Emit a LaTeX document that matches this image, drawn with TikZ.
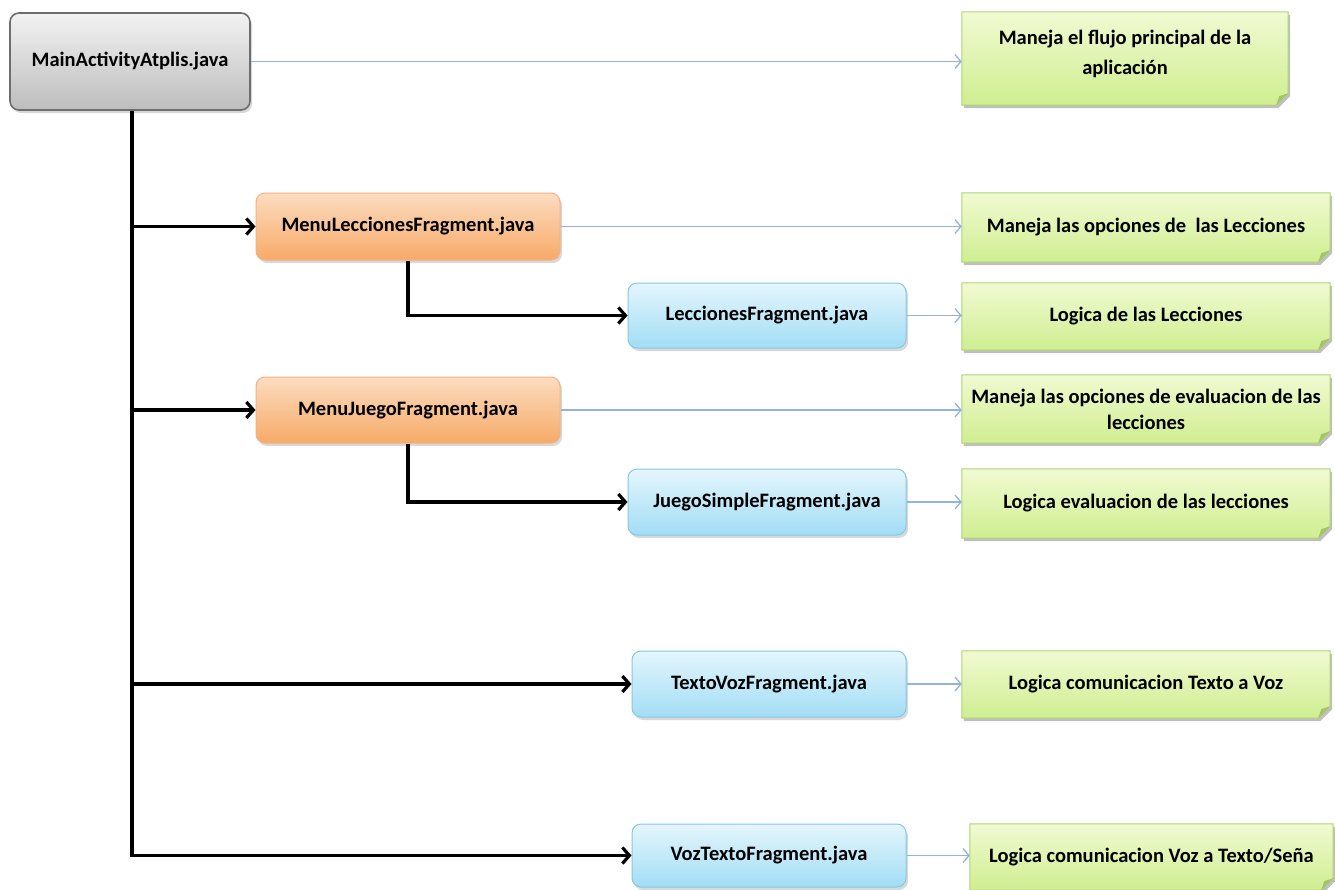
\documentclass[tikz,border=0pt]{standalone}
\usepackage{fontspec}
\setmainfont{Carlito}
\usetikzlibrary{arrows.meta,shadows,backgrounds}
\definecolor{grayTop}{HTML}{F2F2F2}
\definecolor{grayBot}{HTML}{BDBDBD}
\definecolor{grayLine}{HTML}{6E6E6E}
\definecolor{orTop}{HTML}{FCDCC0}
\definecolor{orBot}{HTML}{F7AA68}
\definecolor{orLine}{HTML}{F4B183}
\definecolor{blTop}{HTML}{E4F6FD}
\definecolor{blBot}{HTML}{A2DDF5}
\definecolor{blLine}{HTML}{86C8E4}
\definecolor{grTop}{HTML}{F1FAD2}
\definecolor{grBot}{HTML}{CFEE90}
\definecolor{grLine}{HTML}{B0D376}
\definecolor{grFold}{HTML}{A4C566}
\definecolor{arrBlue}{HTML}{94B2E0}
\newcommand{\notebg}[1]{%
  \fill[black, opacity=0.25] ([xshift=2pt,yshift=-3pt]#1.north west) -- ([xshift=2pt,yshift=-3pt]#1.north east) -- ([xshift=2pt,yshift=9pt]#1.south east) -- ([xshift=-10pt,yshift=-3pt]#1.south east) -- ([xshift=2pt,yshift=-3pt]#1.south west) -- cycle;
  \path[top color=grTop, bottom color=grBot, draw=grLine, line width=1pt] (#1.north west) -- (#1.north east) -- ([yshift=12pt]#1.south east) -- ([xshift=-12pt]#1.south east) -- (#1.south west) -- cycle;
  \fill[grFold] ([yshift=12pt]#1.south east) -- ([xshift=-12pt]#1.south east) -- ([xshift=-9pt,yshift=9pt]#1.south east) -- cycle;
}
\begin{document}
\begin{tikzpicture}[x=1pt,y=-1pt,
  txt/.style={font=\bfseries\fontsize{20.5}{24}\selectfont, align=center, inner sep=0pt},
  box/.style={txt, rounded corners=9pt, line width=1pt,
    drop shadow={shadow xshift=2pt, shadow yshift=-3pt, opacity=0.3}},
  mainbox/.style={box, draw=grayLine, line width=1.6pt, top color=grayTop, bottom color=grayBot},
  orbox/.style={box, draw=orLine, top color=orTop, bottom color=orBot},
  blbox/.style={box, draw=blLine, top color=blTop, bottom color=blBot},
  note/.style={txt},
  barrow/.style={draw=arrBlue, line width=1.3pt, -{Straight Barb[length=6pt,width=14pt,line width=1.3pt]}},
  karrow/.style={draw=black, line width=3.2pt, -{Straight Barb[length=7pt,width=16pt]}}
]
\begin{scope}[on background layer]
\fill[white] (0,0) rectangle (1335,889);
\end{scope}
\useasboundingbox (0,0) rectangle (1335,889);

% left-side boxes
\node[mainbox, minimum width=240pt, minimum height=97pt] (main) at (130,61.5) {MainActivityAtplis.java};
\node[orbox, minimum width=304pt, minimum height=67pt] (menuL) at (408,226.5) {MenuLeccionesFragment.java};
\node[blbox, minimum width=278pt, minimum height=65pt] (lec) at (767,315.5) {LeccionesFragment.java};
\node[orbox, minimum width=304pt, minimum height=66pt] (menuJ) at (408,410) {MenuJuegoFragment.java};
\node[blbox, minimum width=278pt, minimum height=66pt] (jue) at (767,502) {JuegoSimpleFragment.java};
\node[blbox, minimum width=274pt, minimum height=66pt] (tv) at (769,684) {TextoVozFragment.java};
\node[blbox, minimum width=274pt, minimum height=63pt] (vt) at (769,855.5) {VozTextoFragment.java};

% notes
\node[note, minimum width=326pt, minimum height=93pt] (g1) at (1125,58.5) {Maneja el flujo principal de la\\[6pt]aplicación\\[-12pt]\mbox{}};
\node[note, minimum width=368pt, minimum height=69pt] (g2) at (1146,227.5) {Maneja las opciones de\ \ las Lecciones};
\node[note, minimum width=368pt, minimum height=67pt] (g3) at (1146,316.5) {Logica de las Lecciones};
\node[note, minimum width=368pt, minimum height=68pt] (g4) at (1146,409) {Maneja las opciones de evaluacion de las\\[2pt]lecciones};
\node[note, minimum width=368pt, minimum height=69pt] (g5) at (1146,503.5) {Logica evaluacion de las lecciones};
\node[note, minimum width=368pt, minimum height=67pt] (g6) at (1146,684.5) {Logica comunicacion Texto a Voz};
\node[note, minimum width=363pt, minimum height=66pt] (g7) at (1151.5,857) {Logica comunicacion Voz a Texto/Seña};

\begin{scope}[on background layer]
  \notebg{g1}\notebg{g2}\notebg{g3}\notebg{g4}\notebg{g5}\notebg{g6}\notebg{g7}
\end{scope}

% blue connectors
\draw[barrow] (main.east) -- (main.east -| g1.west);
\draw[barrow] (menuL.east) -- (menuL.east -| g2.west);
\draw[barrow] (lec.east) -- (lec.east -| g3.west);
\draw[barrow] (menuJ.east) -- (menuJ.east -| g4.west);
\draw[barrow] (jue.east) -- (jue.east -| g5.west);
\draw[barrow] (tv.east) -- (tv.east -| g6.west);
\draw[barrow] (vt.east) -- (vt.east -| g7.west);

% black connectors
\coordinate (trunk) at ([xshift=2pt]main.south);
\draw[karrow] (trunk) |- (vt.west);
\draw[karrow] (trunk |- menuL.west) -- (menuL.west);
\draw[karrow] (trunk |- menuJ.west) -- (menuJ.west);
\draw[karrow] (trunk |- tv.west) -- (tv.west);
\draw[karrow] (menuL.south) |- (lec.west);
\draw[karrow] (menuJ.south) |- (jue.west);
\end{tikzpicture}
\end{document}
